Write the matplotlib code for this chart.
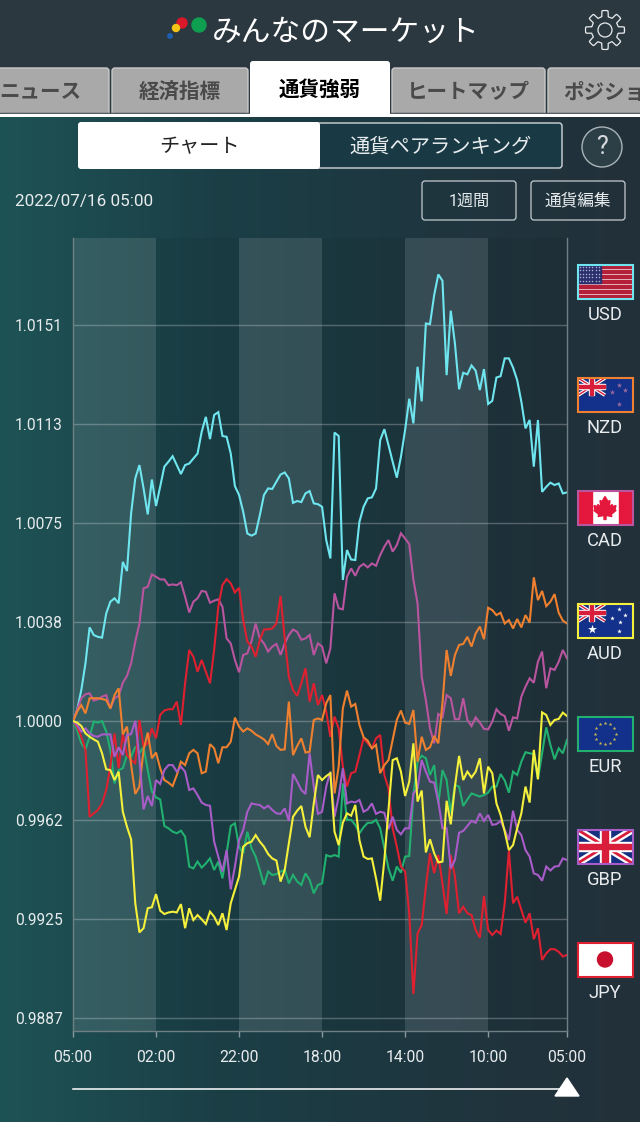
import numpy as np
import matplotlib
matplotlib.use('Agg')
import matplotlib.pyplot as plt
from matplotlib.patches import Rectangle, FancyBboxPatch, Circle, Polygon
from matplotlib.colors import LinearSegmentedColormap

plt.rcParams['font.family'] = ['Roboto', 'Noto Sans CJK JP', 'DejaVu Sans']

# strength values, as offset from 1.0000 in 1/10000
usd = [0, 4.2, 11.8, 22, 35.7, 32.8, 32.1, 31.8, 41, 45.5, 46.8, 44.9, 60.7, 57.2, 79.2, 92.5, 97.6, 88.7, 78.8, 92.1,
       82, 89.4, 97, 98.9, 101, 97.6, 94.2, 97.6, 98.2, 100.1, 102, 110.3, 116, 107.5, 116.7, 117.8, 108.7, 108.4, 102, 89.6,
       86.2, 79.8, 71.5, 70.7, 71.5, 78.5, 86.2, 88.7, 88.5, 91.3, 94, 94.8, 92.5, 83.2, 83.9, 83.5, 86.8, 87.7, 83, 82.7,
       81.7, 69, 62, 110, 108.7, 53.8, 65.2, 61.6, 61.4, 76, 81.7, 84.9, 85.3, 88.7, 107.1, 111.3, 105.2, 98.9, 92.8, 100.8,
       111, 122.9, 113.5, 135.1, 121.9, 151.6, 151.4, 162.4, 170.3, 167.9, 131.9, 156.5, 144, 126.5, 132.8, 132.2, 135.6, 133.6, 126.2, 134.2,
       120.9, 122.1, 131, 131.5, 138.3, 138.3, 134.8, 130, 121.8, 111.6, 114.8, 97, 114.8, 87.4, 89.3, 90.9, 90, 90.6, 86.8, 87.2]
nzd = [0, 3.6, 6.1, 2.9, 8.7, 8.7, 8.7, 8.4, 8, 4.8, 9.9, 12.5, -5.1, -2.1, -16.8, -27.8, -25, -11, -4.4, -14.2,
       -12, -18, -22.5, -23.5, -24.8, -20.6, -15.5, -16.8, -12.3, -11, -12.3, -19.9, -19.3, -8.8, -10.4, -16.1, -10, -10, -7.9, 1.3,
       -2.1, -4, -2.8, -3.7, -5.1, -6, -7, -8.8, -5, -9.5, -11, -10.8, 7.4, -13, -9.5, -6.6, -12, -11.7, 0.4, 1,
       0.4, 6.8, 9.9, -27.6, -17.4, 4.8, 11.6, 5.5, 6.5, -1.5, -6.2, -7.5, -10.4, -9.1, -19.9, -16.8, -14.9, -7.2, 0.4, 4,
       -0.6, -1.1, 4.2, -15.5, -6, -11, -10, -5.7, -8.5, 6.8, 27.1, 17.2, 25.2, 29, 29.4, 32.1, 28.4, 33.4, 36, 31.2,
       43.2, 42.3, 40.4, 41.3, 37.2, 38.5, 35.3, 38.9, 35.7, 40.4, 37.5, 54.8, 46.1, 49.6, 43.8, 45.5, 48.4, 41.3, 38.3, 37.2]
cad = [0, 4.2, 8.7, 10.2, 10.6, 7.8, 8.3, 9.3, 9.9, 4.8, 8.7, 9.6, 14.6, 17.2, 22, 30.3, 37.2, 50.6, 51.2, 55.9,
       55, 54, 54, 51.8, 52.1, 51.8, 52.9, 47.4, 41.4, 45.5, 46.8, 49.6, 49.3, 45.1, 45.9, 46.4, 43.6, 31.5, 29.6, 23.3,
       18.6, 25.2, 25.8, 30.4, 37.2, 31.5, 29.6, 26.5, 28.4, 29.4, 25.2, 29.6, 32.8, 34.9, 34, 31, 31.5, 32.8, 25.2, 29.6,
       28.4, 22, 27.7, 48.7, 43, 42.6, 55, 58.2, 55.4, 58.8, 59.9, 58.6, 60.1, 59.2, 63.3, 66.5, 69, 64.6, 67.1, 71.6,
       69.6, 67.5, 53.8, 44.9, 16.9, 8, -2.8, -8.5, 2.7, 1.4, 9.9, 8.7, 0.7, 0.7, 8.7, 0.4, -1.9, 1.4, -0.6, -3,
       -3.2, -0.2, 4.5, 2.7, 1.9, -3.7, 1.4, 1, 9.3, 13.1, 16.3, 14.6, 22.6, 26.5, 12.5, 20.1, 19.5, 22.6, 27.1, 23.9]
aud = [0, -0.6, -1.9, -4.7, -6, -7, -7.9, -12.3, -18.4, -18.7, -22.5, -19.3, -34.6, -40.3, -45.1, -69.5, -80.6, -79, -71.4, -71,
       -66, -72.3, -73.6, -73, -72.7, -73, -69.8, -79, -71.4, -75.9, -74, -75.6, -77.4, -72.7, -74.6, -77.8, -73.3, -79.7, -69.5, -64.4,
       -59.3, -47.9, -46.6, -46, -43.5, -46, -47.9, -50.7, -52.4, -53.2, -61.2, -56.8, -46.6, -36.5, -34.2, -32.4, -40.3, -44.3, -31.4, -20.6,
       -22.5, -21, -19.9, -42.2, -47.3, -38.8, -35.2, -36.1, -32, -45.4, -51.7, -52.6, -52.4, -60, -68.5, -53, -33.9, -14.9, -14.2, -19.3,
       -28.6, -23.1, -8.5, -30.7, -26.5, -50.1, -45.1, -50.4, -53.9, -53.6, -30.4, -39.4, -25, -13.3, -22.5, -19.3, -21.5, -19.3, -14.2, -27.6,
       -17.4, -19.9, -31.4, -35.8, -42.2, -49.2, -47.3, -40.9, -35.2, -25, -31.1, -11, -22.2, 3.3, 2.3, -1.5, 0.4, 0.8, 3.2, 1.9]
eur = [0, -3.4, -8.5, -10.8, -6, -0.2, -0.6, 0, -4, -11, -23.8, -18.7, -18, -13, -13.6, -9.8, -12.3, -9.8, -18.7, -26.9,
       -29.1, -29.9, -40, -40.9, -42.2, -42.8, -41.8, -44.1, -55.5, -56.2, -53.6, -55.9, -54.3, -52.4, -56.8, -53.6, -60, -50.4, -40, -39,
       -47.9, -50.4, -42.2, -48.5, -51.7, -56.8, -62.5, -57.4, -58.7, -58.4, -57.4, -56.8, -61.9, -58.7, -61.2, -62.5, -58.1, -60.6, -65.7, -62.5,
       -61.9, -51.1, -51.7, -51.1, -51.7, -23.8, -37.7, -37.7, -39.6, -42.8, -40.5, -38.8, -38.8, -37.7, -40.9, -48.5, -56.2, -60.9, -55.5, -57.8,
       -51.7, -51.5, -28.2, -15.5, -13.2, -14.2, -20.6, -16.8, -31.4, -18.7, -22.5, -35.2, -24.4, -25, -32.4, -29.9, -27.6, -28.2, -28.8, -28.2,
       -27.3, -25, -25, -20.2, -22.7, -27.3, -19.3, -20.6, -15.5, -11.9, -12.3, -12.6, -22.2, -12.3, -2.4, -9.1, -14.6, -10.4, -12.3, -7.2]
gbp = [0, -1.5, -4, -2.8, -4.7, -5.7, -6, -5.1, -5.1, -5.1, -13.6, -10, -13, -5.3, -5, 0.1, -14.2, -33.7, -28.6, -32.4,
       -22.5, -24, -18.7, -16.8, -16.8, -19.3, -17.4, -19.3, -26.3, -25.7, -28.2, -31.1, -32, -32.3, -46, -51.7, -57.4, -49.2, -64.2, -55.5,
       -45.4, -41.5, -34.6, -31.4, -31.8, -32, -33.3, -32.3, -33.9, -35.2, -35.4, -33.3, -38.1, -20.2, -23.1, -26.3, -27.8, -12.3, -25, -35.4,
       -34.6, -25, -19.3, -36.5, -28.8, -18, -31.4, -30.7, -31, -30.1, -34.6, -33.7, -31.4, -35.4, -34.6, -35, -41.2, -36.5, -41.5, -43.2,
       -40.9, -40.9, -27.6, -25.7, -14.9, -19.3, -23.1, -23.5, -30.7, -40.9, -40.9, -56.2, -53, -42.6, -41.9, -40, -38.1, -38.8, -35.2, -38.1,
       -35.8, -39.6, -39.3, -38.1, -41.5, -45.4, -34.2, -41.5, -43.5, -49.2, -51.7, -58.1, -58.7, -60.9, -55.5, -57, -55.5, -55.3, -52.4, -53]
jpy = [0, -2.1, -6, -11, -36.5, -35.2, -33.9, -31.4, -26.3, -17.4, -4.7, -18, -4.7, -13, -14.9, -16.1, 0.4, -9.8, -8.5, -2.8,
       -6.6, 2.3, 4, 4.5, 4.5, 7.4, -1.5, 14.4, 27.1, 24.5, 18.8, 23.3, 18.8, 14.4, 27.1, 43.6, 51.9, 54.1, 52.5, 49,
       50.8, 38.5, 30.3, 28.4, 24.5, 30.9, 34.9, 35, 35.3, 37.2, 47.7, 31.5, 16.9, 11.8, 9.6, 14.4, 20.1, 7.4, 14.4, 6.1,
       9.9, 3.6, -6, 1.7, -2.8, -17.4, -25, -19.9, -19.3, -13, -6.6, -8.5, -10.4, -6.6, -5.3, -20.6, -25.7, -40.9, -47.9, -55.5,
       -57.4, -73.3, -104.1, -81, -77.8, -63.2, -50.4, -58, -51.1, -61.9, -73.6, -51.1, -59.3, -73.3, -70.8, -73.3, -74, -79.7, -82.6, -66.7,
       -79.7, -81.6, -79.9, -81.2, -69.5, -49.4, -69.5, -67, -72, -76.9, -73.3, -83.2, -79, -91.1, -88.6, -87, -87, -88, -89.8, -89.2]

currencies = ['USD', 'NZD', 'CAD', 'AUD', 'EUR', 'GBP', 'JPY']
colors = ['#6fe6ef', '#ee8030', '#b9559f', '#f4f03c', '#22b070', '#a85cc8', '#df2030']
series = [usd, nzd, cad, aud, eur, gbp, jpy]
draw_order = [0, 2, 4, 6, 1, 5, 3]

y_ticks = [1.0151, 1.01133, 1.00755, 1.00378, 1.0, 0.99623, 0.99245, 0.98868]
y_labels = ['1.0151', '1.0113', '1.0075', '1.0038', '1.0000', '0.9962', '0.9925', '0.9887']
x_ticks = [0, 20, 40, 60, 80, 100, 119]
x_labels = ['05:00', '02:00', '22:00', '18:00', '14:00', '10:00', '05:00']

fig = plt.figure(figsize=(6.4, 11.22), dpi=100)

# page layer in pixel coordinates
bg = fig.add_axes([0, 0, 1, 1])
cmap = LinearSegmentedColormap.from_list('page', ['#1e5355', '#1b3f46', '#1e363f', '#23303a'])
bg.imshow(np.linspace(0, 1, 256).reshape(1, -1), extent=[0, 640, 1122, 117], aspect='auto', cmap=cmap, zorder=0)
bg.set_xlim(0, 640)
bg.set_ylim(1122, 0)
bg.axis('off')
bg.add_patch(Rectangle((0, 0), 640, 114, color='#2c3840', zorder=1))

# header
bg.text(346, 33, 'みんなのマーケット', color='white', fontsize=21.4, ha='center', va='center', zorder=3)
for cx, cy, r, c in [(199, 25, 7, '#0f9f50'), (182, 23, 5, '#d9182a'), (176, 28, 3.5, '#f3c316'), (170, 36, 2.2, '#1a5fb0')]:
    bg.add_patch(Circle((cx, cy), r, color=c, zorder=3))

# gear
angle = np.linspace(0, 2 * np.pi, 241)
radius = 16.5 + 3 * np.clip(3 * np.cos(8 * angle), -1, 1)
bg.plot(605 + radius * np.cos(angle), 30 + radius * np.sin(angle), color='#e8ecee', lw=0.9, zorder=3)
bg.add_patch(Circle((605, 30), 7, fill=False, ec='#e8ecee', lw=0.9, zorder=3))

# tabs
tabs = [('ニュース', -30, 110, 40), ('経済指標', 111, 249, 180), ('ヒートマップ', 391, 546, 468), ('ポジション', 547, 680, 614)]
for name, x0, x1, tx in tabs:
    bg.add_patch(FancyBboxPatch((x0 + 1, 68), x1 - x0 - 2, 50, boxstyle='round,pad=0,rounding_size=3',
                                fc='#a9a9a9', ec='#c9c9c9', lw=1, zorder=1.5))
    bg.text(tx, 93, name, color='#4a4a4a', fontsize=14.8, fontweight='bold', ha='center', va='center', zorder=3)
bg.add_patch(FancyBboxPatch((250, 61), 140, 60, boxstyle='round,pad=0,rounding_size=3', fc='white', ec='none', zorder=1.7))
bg.text(320, 90, '通貨強弱', color='black', fontsize=14.8, fontweight='bold', ha='center', va='center', zorder=3)
bg.add_patch(Rectangle((0, 113), 250, 1, color='#2c3840', zorder=1.6))
bg.add_patch(Rectangle((390, 113), 250, 1, color='#2c3840', zorder=1.6))
bg.add_patch(Rectangle((0, 114), 640, 3, color='white', zorder=1.8))
bg.add_patch(Rectangle((0, 117), 640, 8, color=cmap(0.5), alpha=0, zorder=1.8))

# switch and buttons
bg.imshow(np.linspace(0, 1, 256).reshape(1, -1), extent=[0, 640, 125, 117], aspect='auto', cmap=cmap, zorder=1.9)
bg.set_xlim(0, 640)
bg.set_ylim(1122, 0)
bg.add_patch(FancyBboxPatch((79, 123), 483, 45, boxstyle='round,pad=0,rounding_size=3', fc='#193a44', ec='#d0d8da', lw=1, zorder=2))
bg.add_patch(FancyBboxPatch((78, 122), 242, 47, boxstyle='round,pad=0,rounding_size=3', fc='white', ec='none', zorder=2.1))
bg.text(199, 147, 'チャート', color='#222222', fontsize=14.5, ha='center', va='center', zorder=3)
bg.text(441, 147, '通貨ペアランキング', color='#e8ecee', fontsize=14.6, ha='center', va='center', zorder=3)
bg.add_patch(Circle((602, 147), 20, fc='#2c3f47', ec='#aab4b8', lw=1, zorder=2))
bg.text(602, 147, '?', color='#d8dcde', fontsize=18, ha='center', va='center', zorder=3)
bg.text(15, 201, '2022/07/16 05:00', color='#e8ecee', fontsize=12.3, ha='left', va='center', zorder=3)
for x0, x1, label, size in [(422, 516, '1週間', 11.6), (531, 625, '通貨編集', 12)]:
    bg.add_patch(FancyBboxPatch((x0, 181), x1 - x0, 39, boxstyle='round,pad=0,rounding_size=3', fc='none', ec='#c4ccd0', lw=0.9, zorder=2))
    bg.text((x0 + x1) / 2, 201, label, color='#e8ecee', fontsize=size, ha='center', va='center', zorder=3)

# chart
ax = fig.add_axes([73 / 640, 1 - 1031 / 1122, (567 - 73) / 640, (1031 - 238) / 1122])
ax.patch.set_alpha(0)
ax.set_xlim(0, 119)
ax.set_ylim(0.98818, 1.01842)
for i, (a, b) in enumerate(zip(x_ticks[:-1], x_ticks[1:])):
    if i % 2 == 0:
        ax.axvspan(a, b, color='white', alpha=0.11, lw=0, zorder=0)
    else:
        ax.axvspan(a, b, color='black', alpha=0.05, lw=0, zorder=0)
for v in y_ticks:
    ax.axhline(v, color='white', alpha=0.25, lw=1, zorder=1)
for z, i in enumerate(draw_order):
    values = 1 + np.array(series[i]) / 10000
    ax.plot(np.arange(len(values)), values, color=colors[i], lw=1.5, zorder=2 + z, solid_joinstyle='miter')
ax.set_xticks(x_ticks)
ax.set_xticklabels(x_labels, color='#e8ecee', fontsize=11.3)
ax.set_yticks(y_ticks)
ax.set_yticklabels(y_labels, color='#e8ecee', fontsize=11.2, ha='left')
ax.tick_params(axis='x', color='#8a989c', length=4, width=1, pad=10)
ax.tick_params(axis='y', length=0, pad=41.8)
ax.spines['top'].set_visible(False)
for side in ['left', 'right', 'bottom']:
    ax.spines[side].set_color('#6f8084')
    ax.spines[side].set_linewidth(1)


def union_jack(x, y, w, h, clip):
    bg.add_patch(Rectangle((x, y), w, h, color='#14307f', zorder=5)).set_clip_path(clip)
    for lw, c in [(2.6, 'white'), (1.0, '#d81e3a')]:
        for xs, ys in [([x, x + w], [y, y + h]), ([x, x + w], [y + h, y])]:
            bg.plot(xs, ys, color=c, lw=lw * w / 27, zorder=5.1, solid_capstyle='butt')[0].set_clip_path(clip)
    bg.add_patch(Rectangle((x + w * 0.41, y), w * 0.18, h, color='white', zorder=5.2)).set_clip_path(clip)
    bg.add_patch(Rectangle((x, y + h * 0.36), w, h * 0.28, color='white', zorder=5.2)).set_clip_path(clip)
    bg.add_patch(Rectangle((x + w * 0.45, y), w * 0.10, h, color='#d81e3a', zorder=5.3)).set_clip_path(clip)
    bg.add_patch(Rectangle((x, y + h * 0.41), w, h * 0.18, color='#d81e3a', zorder=5.3)).set_clip_path(clip)


# flags beside the chart
flag_tops = [265, 378, 491, 604, 717, 830, 943]
x0, w, h = 578, 54, 33
for name, color, top in zip(currencies, colors, flag_tops):
    clip = Rectangle((x0, top), w, h, transform=bg.transData)
    if name == 'USD':
        bg.add_patch(Rectangle((x0, top), w, h, color='white', zorder=4))
        for k in range(0, 13, 2):
            bg.add_patch(Rectangle((x0, top + k * h / 13), w, h / 13, color='#b32038', zorder=4.1))
        bg.add_patch(Rectangle((x0, top), w * 0.42, h * 7 / 13, color='#2b2f6e', zorder=4.2))
        sx, sy = np.meshgrid(np.linspace(x0 + 2, x0 + w * 0.42 - 2, 7), np.linspace(top + 2, top + h * 7 / 13 - 2, 5))
        bg.scatter(sx.ravel(), sy.ravel(), s=1.2, color='#aab0d0', lw=0, zorder=4.3)
    elif name in ('NZD', 'AUD'):
        bg.add_patch(Rectangle((x0, top), w, h, color='#13308a', zorder=4))
        union_jack(x0, top, w / 2, h * 0.52, clip)
        if name == 'NZD':
            bg.scatter([x0 + 41, x0 + 34, x0 + 47, x0 + 41], [top + 7, top + 14, top + 12, top + 26], marker='*', s=16, color='#9a6aa0', lw=0, zorder=5.5)
        else:
            bg.scatter([x0 + 41, x0 + 34, x0 + 47, x0 + 42, x0 + 41], [top + 5, top + 14, top + 11, top + 18, top + 27], marker='*', s=12, color='white', lw=0, zorder=5.5)
            bg.scatter([x0 + 14], [top + 25], marker='*', s=45, color='white', lw=0, zorder=5.5)
    elif name == 'CAD':
        bg.add_patch(Rectangle((x0, top), w, h, color='white', zorder=4))
        bg.add_patch(Rectangle((x0, top), w / 4, h, color='#e3183c', zorder=4.1))
        bg.add_patch(Rectangle((x0 + 3 * w / 4, top), w / 4, h, color='#e3183c', zorder=4.1))
        cx, cy = x0 + w / 2, top + h / 2
        leaf = [(0, -11), (3, -6), (5, -7), (4, 0), (7, -3), (8, -1), (11, -2), (10, 2), (11, 3), (6, 7), (7, 9), (1, 8), (1, 12),
                (-1, 12), (-1, 8), (-7, 9), (-6, 7), (-11, 3), (-10, 2), (-11, -2), (-8, -1), (-7, -3), (-4, 0), (-5, -7), (-3, -6)]
        bg.add_patch(Polygon([(cx + a, cy + b) for a, b in leaf], color='#e3183c', zorder=4.2))
    elif name == 'EUR':
        bg.add_patch(Rectangle((x0, top), w, h, color='#13308a', zorder=4))
        t = np.arange(12) * np.pi / 6
        bg.scatter(x0 + w / 2 + 10.5 * np.cos(t), top + h / 2 + 10.5 * np.sin(t), marker='*', s=8, color='#c8b850', lw=0, zorder=4.2)
    elif name == 'GBP':
        union_jack(x0, top, w, h, clip)
    else:
        bg.add_patch(Rectangle((x0, top), w, h, color='white', zorder=4))
        bg.add_patch(Circle((x0 + w / 2, top + h / 2), 7.5, color='#c8102e', zorder=4.2))
    bg.add_patch(Rectangle((x0 - 0.5, top - 0.5), w + 1, h + 1, fill=False, ec=color, lw=1.5, zorder=6))
    bg.text(605, top + 50, name, color='#e8ecee', fontsize=13.2, ha='center', va='center', zorder=6)

# period slider
bg.plot([73, 567], [1089, 1089], color='white', lw=1.1, zorder=3)
bg.add_patch(Polygon([(555, 1096), (579, 1096), (567, 1078)], color='white', zorder=4))

fig.savefig('out.png', dpi=100)
